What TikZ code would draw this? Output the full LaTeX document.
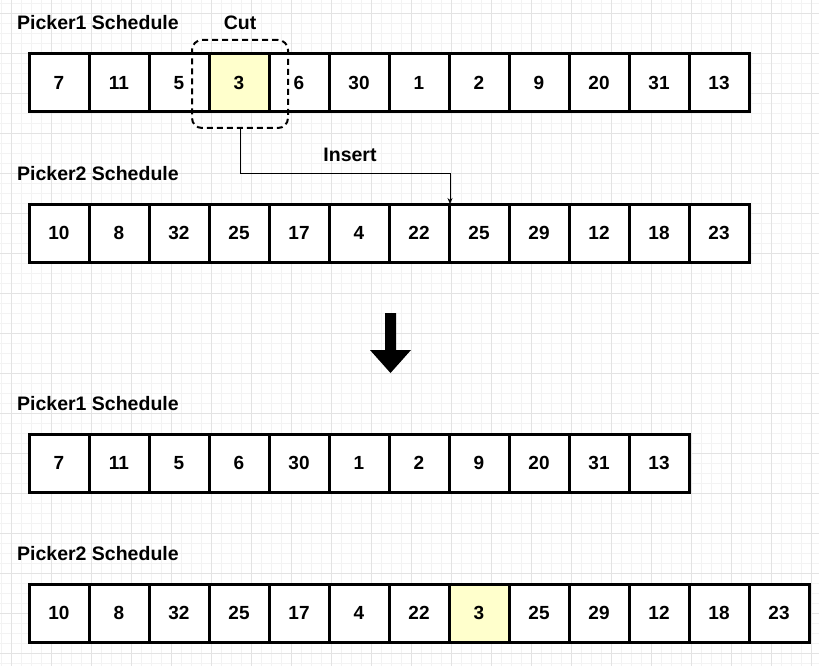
\documentclass[tikz,border=0pt]{standalone}
\usepackage{fontspec}
\setmainfont{Liberation Sans}
\usetikzlibrary{arrows.meta}
\definecolor{gridminor}{HTML}{F3F3F3}
\definecolor{gridmajor}{HTML}{E3E3E3}
\definecolor{cutfill}{HTML}{FFFFCC}
\tikzset{
  cell/.style={draw=black, line width=3pt, minimum width=60pt, minimum height=58pt, inner sep=0pt, fill=white,
    font=\fontsize{19}{19}\selectfont\bfseries},
  hcell/.style={cell, fill=cutfill},
  title/.style={anchor=west, inner sep=0pt, font=\fontsize{19.5}{19.5}\selectfont\bfseries},
  lbl/.style={inner sep=0pt, font=\fontsize{19.5}{19.5}\selectfont\bfseries},
  cutbox/.style={draw=black, line width=2pt, dash pattern=on 6pt off 4pt, rounded corners=10pt},
  conn/.style={draw=black, line width=0.8pt, -{Stealth[length=6pt,width=5pt]}},
}
\begin{document}
\begin{tikzpicture}[x=1pt,y=-1pt]
\useasboundingbox (0,0) rectangle (819,666);
\fill[white] (0,0) rectangle (819,666);
% grid
\foreach \i in {0,...,82} {\draw[gridminor, line width=0.6pt] ({1.7+10*\i},0) -- ({1.7+10*\i},666);}
\foreach \i in {0,...,67} {\draw[gridminor, line width=0.6pt] (0,{3.3+10*\i}) -- (819,{3.3+10*\i});}
\foreach \i in {0,...,20} {\draw[gridmajor, line width=0.6pt] ({11.7+40*\i},0) -- ({11.7+40*\i},666);}
\foreach \i in {0,...,16} {\draw[gridmajor, line width=0.6pt] (0,{13.3+40*\i}) -- (819,{13.3+40*\i});}

% titles
\node[title] (t1) at (17,23) {Picker1 Schedule};
\node[title] (t2) at (17,174) {Picker2 Schedule};
\node[title] (t3) at (17,404) {Picker1 Schedule};
\node[title] (t4) at (17,554) {Picker2 Schedule};

% row 1
\foreach \v [count=\i] in {7,11,5,3,6,30,1,2,9,20,31,13} {
  \ifnum\i=4
    \node[hcell] (a\i) at ({60*\i-1},83) {\v};
  \else
    \node[cell] (a\i) at ({60*\i-1},83) {\v};
  \fi
}
% row 2
\foreach \v [count=\i] in {10,8,32,25,17,4,22,25,29,12,18,23} {
  \node[cell] (b\i) at ({60*\i-1},233) {\v};
}
% row 3
\foreach \v [count=\i] in {7,11,5,6,30,1,2,9,20,31,13} {
  \node[cell] (c\i) at ({60*\i-1},463) {\v};
}
% row 4
\foreach \v [count=\i] in {10,8,32,25,17,4,22,3,25,29,12,18,23} {
  \ifnum\i=8
    \node[hcell] (d\i) at ({60*\i-1},613) {\v};
  \else
    \node[cell] (d\i) at ({60*\i-1},613) {\v};
  \fi
}

% cut box
\node[cutbox, minimum width=96pt, minimum height=88pt, inner sep=0pt] (cut) at (240,84) {};
\node[lbl] (cutlbl) at (240,23) {Cut};

% insert connector
\coordinate (ins) at (450,204);
\draw[conn] (cut.south) |- (450,173) -- (ins);
\node[lbl] (inslbl) at (350,155) {Insert};

% big arrow
\fill[black] (385,313) -- (396,313) -- (396,350) -- (411,350) -- (390.5,373) -- (370,350) -- (385,350) -- cycle;
\end{tikzpicture}
\end{document}
